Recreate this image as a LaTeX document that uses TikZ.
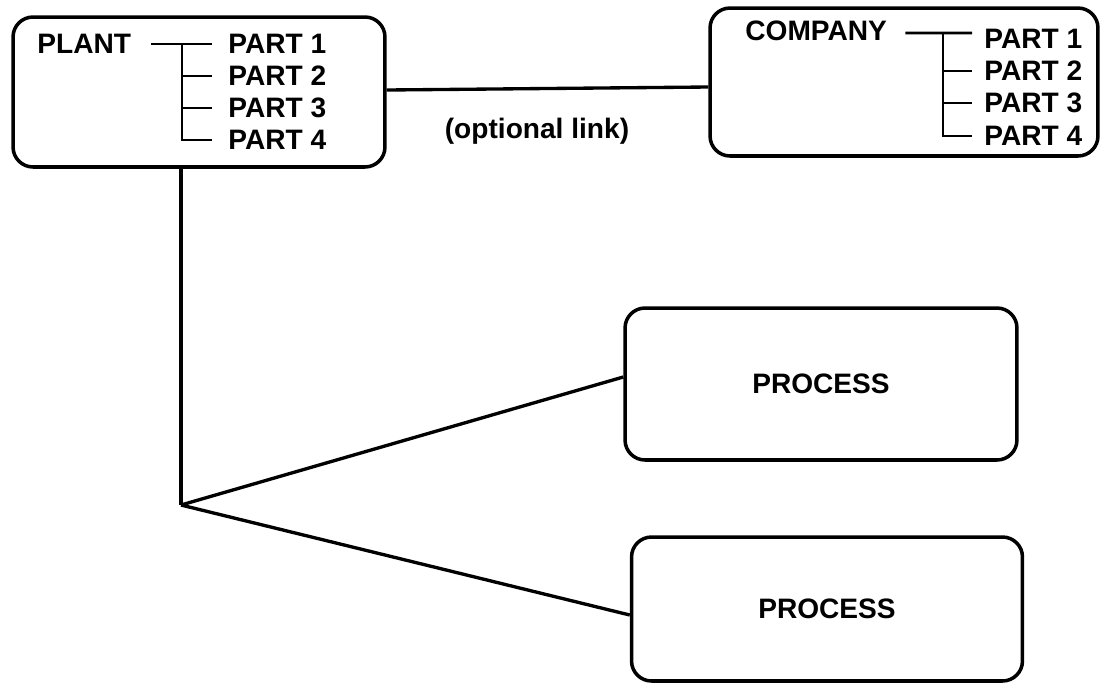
\documentclass[tikz,border=0pt]{standalone}
\usepackage{fontspec}
\setmainfont{Liberation Sans}
\usetikzlibrary{positioning}

\tikzset{
  box/.style={draw, rounded corners=0.4cm, line width=2pt, inner sep=0pt,
    font=\fontsize{16}{18}\selectfont\bfseries},
  lbl/.style={font=\fontsize{16}{18}\selectfont\bfseries, inner sep=0pt, anchor=west},
  tree/.style={line width=1.6pt},
  link/.style={line width=1.9pt}
}

\begin{document}
\begin{tikzpicture}[x=0.02cm,y=-0.02cm]
\useasboundingbox (0,0) rectangle (1104,684);

% the four boxes
\node[box, minimum width=7.44cm, minimum height=3cm] (plantbox) at (199,92) {};
\node[box, minimum width=7.76cm, minimum height=2.96cm] (companybox) at (904,82) {};
\node[box, minimum width=7.84cm, minimum height=3.04cm] (proc1) at (821,384) {PROCESS};
\node[box, minimum width=7.82cm, minimum height=2.88cm] (proc2) at (827,609) {PROCESS};

% plant and its parts
\node[lbl] (plant) at (37,44) {PLANT};
\foreach \i/\y in {1/44,2/76,3/108,4/140}
  \node[lbl] (pp\i) at (228,\y) {PART \i};
\coordinate (pj) at (182,44);
\draw[tree] ([xshift=0.4cm]plant.east) -- ([xshift=-0.32cm]pp1.west);
\draw[tree] (pj) |- ([xshift=-0.32cm]pp4.west);
\foreach \i in {2,3}
  \draw[tree] (pj |- pp\i.west) -- ([xshift=-0.32cm]pp\i.west);

% company and its parts
\node[lbl] (company) at (745,31) {COMPANY};
\foreach \i/\y in {1/39,2/71,3/103,4/136}
  \node[lbl] (pc\i) at (984,\y) {PART \i};
\coordinate (cj) at (943,33);
\draw[tree] ([xshift=0.36cm,yshift=-0.04cm]company.east) -- ([xshift=-0.24cm]cj -| pc1.west);
\draw[tree] (cj) |- ([xshift=-0.24cm]pc4.west);
\foreach \i in {2,3}
  \draw[tree] (cj |- pc\i.west) -- ([xshift=-0.24cm]pc\i.west);

% link between plant and company
\draw[link] ([yshift=0.04cm]plantbox.east) -- ([yshift=-0.1cm]companybox.west);
\node[lbl, anchor=center] (linklbl) at (537,131) {(optional link)};

% plant down to the processes
\coordinate (fork) at (181,505);
\draw[link] (plantbox.south -| fork) -- (fork);
\draw[link] (fork) -- ([yshift=0.14cm]proc1.west);
\draw[link] (fork) -- ([yshift=-0.12cm]proc2.west);
\end{tikzpicture}
\end{document}
